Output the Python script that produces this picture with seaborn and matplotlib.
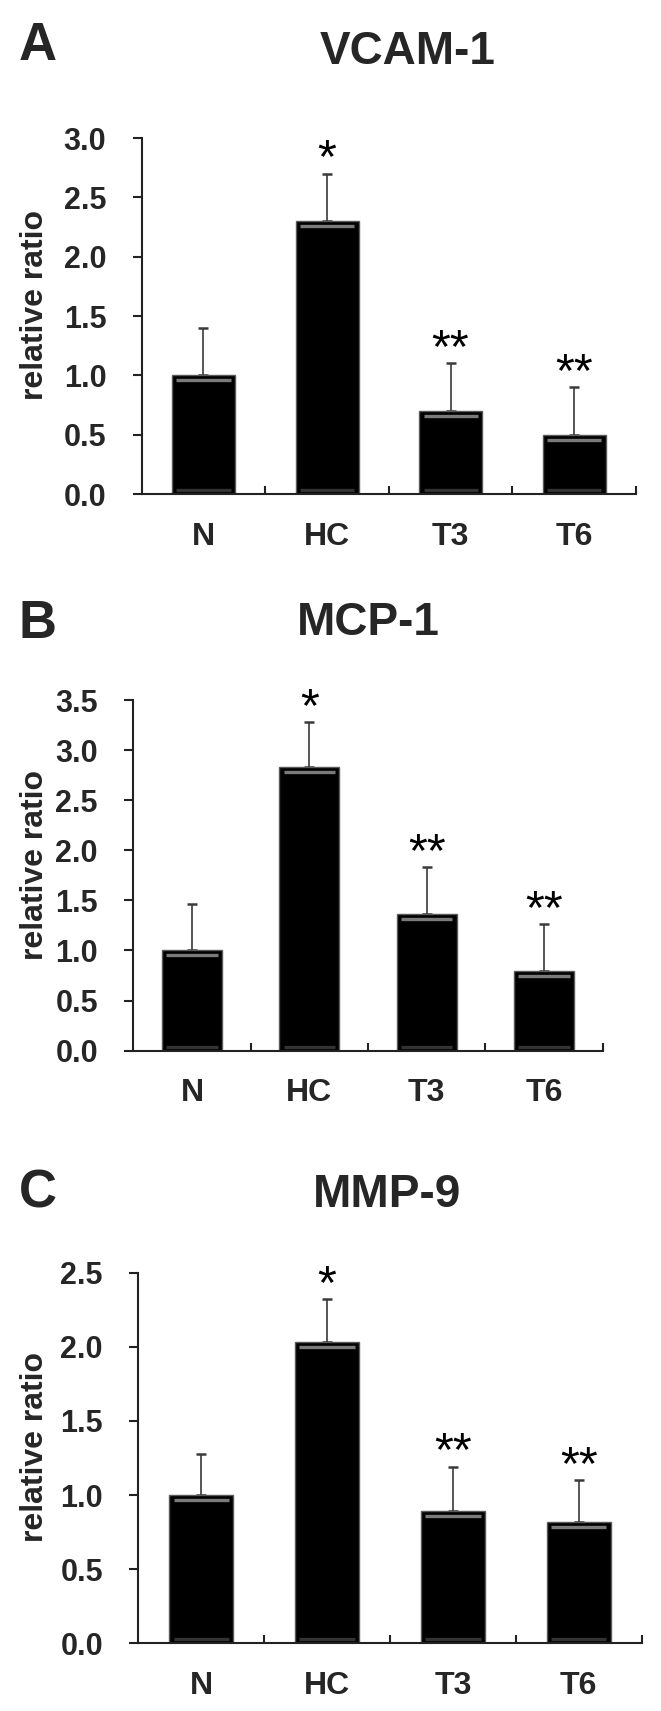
import numpy as np
import seaborn as sns
import matplotlib.pyplot as plt
from matplotlib.transforms import offset_copy

# data (mean and upper SD)
groups = ["N", "HC", "T3", "T6"]
marks = ["", "*", "**", "**"]

vcam_mean = [1.0, 2.3, 0.7, 0.5]
vcam_sd = [0.4, 0.4, 0.4, 0.4]

mcp_mean = [1.0, 2.83, 1.36, 0.80]
mcp_sd = [0.46, 0.45, 0.47, 0.46]

mmp_mean = [1.0, 2.03, 0.89, 0.82]
mmp_sd = [0.28, 0.29, 0.30, 0.28]

titles = ["VCAM-1", "MCP-1", "MMP-9"]
letters = ["A", "B", "C"]
ymax = [3.0, 3.5, 2.5]

sns.set_style("ticks")
plt.rcParams["font.family"] = ["Liberation Sans", "DejaVu Sans"]

W, H = 661, 1711
fig = plt.figure(figsize=(W / 100, H / 100), dpi=100)

# pixel boxes: left, right, top, bottom of each plot area; title centre / baselines
boxes = [(141.7, 636, 138, 494), (133.3, 602.7, 700, 1050.7), (138.3, 641.7, 1272.7, 1643.3)]
title_x = [408, 368, 387]
title_base = [64, 635, 1207]
letter_base = [60, 638, 1207]

panels = [(vcam_mean, vcam_sd), (mcp_mean, mcp_sd), (mmp_mean, mmp_sd)]

for k, (means, sds) in enumerate(panels):
    l, r, t, b = boxes[k]
    ax = fig.add_axes([l / W, 1 - b / H, (r - l) / W, (b - t) / H])

    sns.barplot(x=groups, y=means, color="black", saturation=1, width=0.51,
                edgecolor="#5a5a5a", linewidth=1, errorbar=None, ax=ax, zorder=2)

    # bevel look of the bars
    top_tr = offset_copy(ax.transData, fig=fig, y=-5, units="dots")
    bot_tr = offset_copy(ax.transData, fig=fig, y=4, units="dots")
    for p in ax.patches:
        x0, w, h = p.get_x(), p.get_width(), p.get_height()
        ax.plot([x0 + 0.07 * w, x0 + 0.93 * w], [h, h], transform=top_tr,
                color="#7a7a7a", lw=2.4, solid_capstyle="butt", zorder=3)
        ax.plot([x0 + 0.07 * w, x0 + 0.93 * w], [0, 0], transform=bot_tr,
                color="#333333", lw=2.4, solid_capstyle="butt", zorder=3)

    pos = np.arange(len(groups))
    ax.errorbar(pos, means, yerr=[np.zeros(len(sds)), sds], fmt="none",
                ecolor="#3a3a3a", elinewidth=1.2, capsize=3.5, capthick=1.8, zorder=1)

    for i, mk in enumerate(marks):
        if mk:
            ax.annotate(mk, xy=(pos[i], means[i] + sds[i]), xytext=(0, 10),
                        textcoords="offset points", ha="center", va="center",
                        fontsize=35, color="black")

    ax.set_ylim(0, ymax[k])
    ax.set_xlim(-0.5, len(groups) - 0.5)
    ax.set_yticks(np.arange(0, ymax[k] + 0.01, 0.5))
    ax.set_yticklabels([f"{v:.1f}" for v in np.arange(0, ymax[k] + 0.01, 0.5)],
                       fontweight="bold")
    ax.set_xticks(pos)
    ax.set_xticklabels(groups, fontweight="bold")
    ax.set_xticks(pos + 0.5, minor=True)

    ax.tick_params(axis="y", direction="out", length=6.5, width=1.5,
                   labelsize=22, pad=19, color="#222222")
    ax.tick_params(axis="x", which="major", length=0, labelsize=23, pad=20)
    ax.tick_params(axis="x", which="minor", direction="in", length=6,
                   width=1.5, color="#222222")

    sns.despine(ax=ax)
    for s in ["left", "bottom"]:
        ax.spines[s].set_linewidth(1.5)
        ax.spines[s].set_color("#222222")

    ax.set_xlabel("")
    ax.set_ylabel("relative ratio", fontsize=23, fontweight="bold", va="center")
    ax.yaxis.set_label_coords((35 - l) / (r - l), 0.53)

    fig.text(title_x[k] / W, 1 - title_base[k] / H, titles[k], ha="center",
             va="baseline", fontsize=33, fontweight="bold")
    fig.text(19 / W, 1 - letter_base[k] / H, letters[k], ha="left",
             va="baseline", fontsize=38, fontweight="bold")

fig.savefig("out.png", dpi=100, facecolor="white")
